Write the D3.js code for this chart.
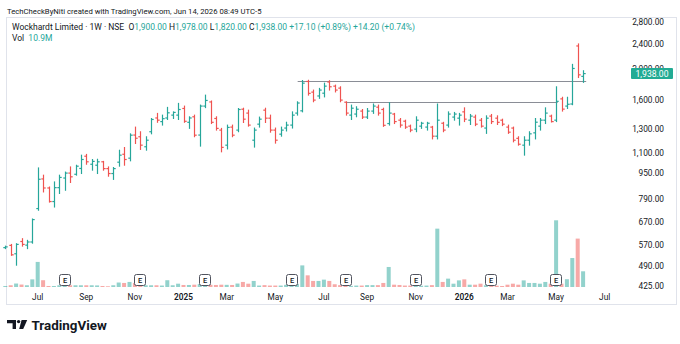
<!DOCTYPE html>
<html><head><meta charset="utf-8">
<script src="https://cdn.jsdelivr.net/npm/d3@7"></script>
<style>body{margin:0;background:#fff}svg{display:block}text{font-family:Roboto,"Noto Sans",sans-serif}</style>
</head><body><svg id="c" width="680" height="344"></svg>
<script>
// ---- data (weekly bars starting Mon 2024-05-20) ----
const startDate = "2024-05-20";
const open  = [560,569,536,585,570,583,740,914,857,778,859,920,953,945,985,1075,1015,1008,1033,984,950,1030,1090,1060,1250,1235,1150,1280,1412,1376,1412,1441,1441,1511,1369,1424,1250,1537,1583,1407,1295,1163,1323,1295,1503,1462,1205,1351,1493,1410,1295,1258,1314,1342,1462,1486,1832,1698,1652,1685,1825,1772,1747,1580,1441,1452,1483,1421,1483,1525,1500,1357,1452,1390,1380,1332,1304,1332,1323,1323,1240,1360,1342,1421,1410,1475,1390,1421,1390,1314,1431,1410,1390,1323,1314,1221,1163,1205,1270,1332,1390,1431,1390,1618,1537,1560,2360,1900];
const high  = [566,573,576,597,590,687,989,939,863,895,939,960,996,1008,1083,1089,1050,1052,1036,996,992,1122,1144,1261,1323,1280,1235,1407,1459,1441,1523,1475,1567,1537,1424,1441,1548,1662,1594,1424,1311,1342,1342,1511,1514,1493,1314,1421,1514,1441,1314,1323,1370,1475,1585,1845,1848,1723,1744,1810,1842,1785,1764,1585,1548,1530,1500,1511,1560,1548,1514,1575,1459,1407,1390,1342,1424,1369,1369,1330,1560,1369,1475,1469,1459,1518,1448,1441,1407,1434,1448,1434,1400,1342,1323,1235,1235,1280,1407,1407,1518,1441,1764,1637,1637,2070,2395,1978];
const low   = [556,530,494,566,556,578,731,833,775,748,824,843,891,939,950,1015,973,950,973,932,911,1001,1008,1040,1177,1128,1122,1261,1369,1342,1397,1407,1397,1369,1311,1235,1155,1520,1357,1295,1109,1132,1235,1280,1367,1332,1147,1323,1367,1276,1180,1240,1287,1314,1441,1475,1662,1585,1624,1641,1723,1700,1585,1441,1397,1424,1407,1407,1459,1441,1330,1342,1357,1323,1311,1280,1280,1311,1295,1216,1216,1280,1323,1390,1342,1376,1348,1337,1323,1265,1357,1348,1337,1265,1191,1163,1083,1163,1216,1295,1357,1372,1376,1483,1511,1552,1884,1820];
const close = [563,532,573,573,583,684,912,857,778,859,924,953,928,1001,1050,1033,1036,1033,984,950,984,1083,1050,1249,1222,1163,1205,1397,1390,1405,1465,1469,1500,1379,1412,1249,1537,1600,1369,1311,1145,1320,1249,1500,1400,1342,1295,1400,1410,1295,1205,1295,1342,1441,1571,1810,1683,1604,1723,1772,1764,1723,1604,1462,1514,1503,1421,1483,1537,1462,1340,1462,1376,1342,1323,1295,1390,1360,1360,1240,1390,1295,1452,1452,1441,1400,1431,1351,1332,1410,1376,1369,1351,1276,1205,1171,1205,1261,1370,1390,1462,1376,1590,1504,1557,2010,1920.9,1938];
const volume = [0.7,1.2,2.4,1.7,1.2,5.3,17.4,4.7,0.7,0.7,1.2,1.0,1.2,1.2,1.2,1.2,1.2,1.1,0.7,0.5,1.2,3.1,2.8,3.5,2.8,2.8,1.2,1.2,1.2,1.0,4.7,1.2,2.3,1.4,1.4,1.6,2.0,1.6,1.5,1.4,1.6,1.5,1.4,2.4,3.5,2.3,4.2,1.0,1.3,1.0,1.0,1.0,1.5,1.6,2.2,15.0,8.1,4.2,4.2,5.1,4.2,1.9,1.3,1.0,0.8,1.0,1.0,1.3,1.3,1.3,2.8,13.9,1.6,1.4,1.0,1.0,1.0,0.9,1.0,1.3,40.5,3.5,5.8,2.3,4.6,5.3,1.6,1.6,2.3,1.2,0.7,0.9,0.7,1.6,2.3,1.6,4.6,2.8,2.8,2.3,3.5,2.3,46.3,2.3,5.4,20.1,33.6,10.9];

const priceTicks = [425,490,570,670,790,950,1100,1300,1600,2000,2400,2800];
const timeTickDates  = ["2024-07-01","2024-09-02","2024-11-04","2025-01-06","2025-03-03","2025-05-05","2025-07-07","2025-09-01","2025-11-03","2026-01-05","2026-03-02","2026-05-04","2026-07-06"];
const timeTickLabels = ["Jul","Sep","Nov","2025","Mar","May","Jul","Sep","Nov","2026","Mar","May","Jul"];
const earningsDates = ["2024-08-05","2024-11-11","2025-02-03","2025-05-26","2025-08-04","2025-11-03","2026-02-09","2026-05-04"];
const levelPrices = [1842, 1578];
const levelFrom   = ["2025-06-03","2025-08-06"];
const levelTo     = ["2026-06-12","2026-05-06"];
const lastPrice = 1938;

const UP = "#26a69a", DOWN = "#ef5350", INK = "#131722";
const parse = d3.utcParse("%Y-%m-%d");
const dates = d3.utcMonday.range(parse(startDate), d3.utcDay.offset(parse(startDate), 7*open.length));
const bars = dates.map((d,i)=>({d, o:open[i], h:high[i], l:low[i], c:close[i], v:volume[i]}));

const svg = d3.select("#c");
const x = d3.scaleUtc().domain([parse(startDate), parse("2026-07-06")]).range([5.3, 604.7]);
const y = d3.scaleLog().domain([425, 2800]).range([286.3, 22]);
const yv = d3.scaleLinear().domain([0, d3.max(volume)]).range([287, 220.3]);

// pane border
svg.append("rect").attr("x",6.5).attr("y",17.5).attr("width",670).attr("height",287)
  .attr("fill","none").attr("stroke","#e0e3eb");

// volume
svg.append("g").selectAll("rect").data(bars).join("rect")
  .attr("x", b=>x(b.d)-2).attr("width",4)
  .attr("y", b=>yv(b.v)).attr("height", b=>yv(0)-yv(b.v))
  .attr("fill", b=> b.c>=b.o ? "rgba(38,166,154,0.5)" : "rgba(239,83,80,0.5)");

// earnings markers
const eg = svg.append("g").selectAll("g").data(earningsDates.map(parse)).join("g")
  .attr("transform", d=>`translate(${Math.round(x(d))},280)`);
eg.append("rect").attr("x",-5.5).attr("y",-5.5).attr("width",11).attr("height",11).attr("rx",2)
  .attr("fill","#fff").attr("stroke","#50535e").attr("stroke-width",1);
eg.append("text").attr("text-anchor","middle").attr("dy","0.35em").attr("font-size",7.5)
  .attr("font-weight",500).attr("fill",INK).text("E");

// horizontal levels
svg.append("g").selectAll("line").data(levelPrices).join("line")
  .attr("x1",(p,i)=>x(parse(levelFrom[i]))).attr("x2",(p,i)=>x(parse(levelTo[i])))
  .attr("y1",p=>Math.round(y(p))+0.5).attr("y2",p=>Math.round(y(p))+0.5)
  .attr("stroke","#8a8d96").attr("stroke-width",1);

// OHLC bars
const bg = svg.append("g").selectAll("g").data(bars).join("g")
  .attr("stroke", b=> b.c>=b.o ? UP : DOWN).attr("stroke-width",1.2);
const bx = b=>Math.round(x(b.d))+0.5;
bg.append("line").attr("x1",bx).attr("x2",bx).attr("y1",b=>y(b.h)-0.5).attr("y2",b=>y(b.l)+0.5);
bg.append("line").attr("x1",b=>bx(b)-2.2).attr("x2",bx).attr("y1",b=>y(b.o)).attr("y2",b=>y(b.o));
bg.append("line").attr("x1",bx).attr("x2",b=>bx(b)+2.2).attr("y1",b=>y(b.c)).attr("y2",b=>y(b.c));

// price axis
const fmt = d3.format(",.2f");
svg.append("g").selectAll("text").data(priceTicks).join("text")
  .attr("x",664).attr("y",p=>y(p)).attr("dy","0.35em").attr("text-anchor","end")
  .attr("font-size",8.3).attr("fill",INK).text(fmt);
// last price label
svg.append("rect").attr("x",631).attr("y",y(lastPrice)-5.5).attr("width",42).attr("height",11).attr("rx",1)
  .attr("fill","#22ab94");
svg.append("text").attr("x",652).attr("y",y(lastPrice)).attr("dy","0.35em").attr("text-anchor","middle")
  .attr("font-size",8.6).attr("fill","#fff").text(fmt(lastPrice));

// time axis
svg.append("g").selectAll("text").data(timeTickDates).join("text")
  .attr("x",d=>x(parse(d))).attr("y",297).attr("dy","0.35em").attr("text-anchor","middle")
  .attr("font-size",8.3).attr("fill",INK)
  .attr("font-weight",(d,i)=>/^\d{4}$/.test(timeTickLabels[i])?600:400)
  .text((d,i)=>timeTickLabels[i]);

// header
function fit(sel, target){ const w=sel.node().getComputedTextLength(); const fs=parseFloat(sel.attr("font-size")); sel.attr("font-size", fs*target/w); }
const h1 = svg.append("text").attr("x",7).attr("y",13.5).attr("font-size",9).attr("fill",INK)
  .text("TechCheckByNiti created with TradingView.com, Jun 14, 2026 08:49 UTC-5");
fit(h1,255);
const h2 = svg.append("text").attr("x",12).attr("y",30).attr("font-size",9).attr("fill",INK);
const nb="\u00A0";
const segs = [["Wockhardt Limited · 1W · NSE",INK],[nb+nb+"O",INK],["1,900.00",UP],[nb+"H",INK],["1,978.00",UP],[nb+"L",INK],["1,820.00",UP],[nb+"C",INK],["1,938.00",UP],[nb+"+17.10 (+0.89%)",UP],[nb+"+14.20 (+0.74%)",UP]];
segs.forEach(s=>h2.append("tspan").attr("fill",s[1]).text(s[0]));
fit(h2,403);
const h3 = svg.append("text").attr("x",12).attr("y",40.5).attr("font-size",h2.attr("font-size")).attr("fill",INK);
h3.append("tspan").text("Vol");
h3.append("tspan").attr("fill",UP).text(nb+nb+"10.9M");

// TradingView logo
const lg = svg.append("g").attr("fill",INK);
lg.append("path").attr("d","M7,320 H16 V329 H12.6 V323.2 H7 Z");
lg.append("circle").attr("cx",18.6).attr("cy",321.6).attr("r",1.7);
lg.append("path").attr("d","M21.6,320 H27.2 L23.2,329 H19.2 Z");
const lt = svg.append("text").attr("x",31.5).attr("y",329.5).attr("font-size",13.5).attr("font-weight",700)
  .attr("fill",INK).text("TradingView");
fit(lt,75.5);
</script></body></html>
